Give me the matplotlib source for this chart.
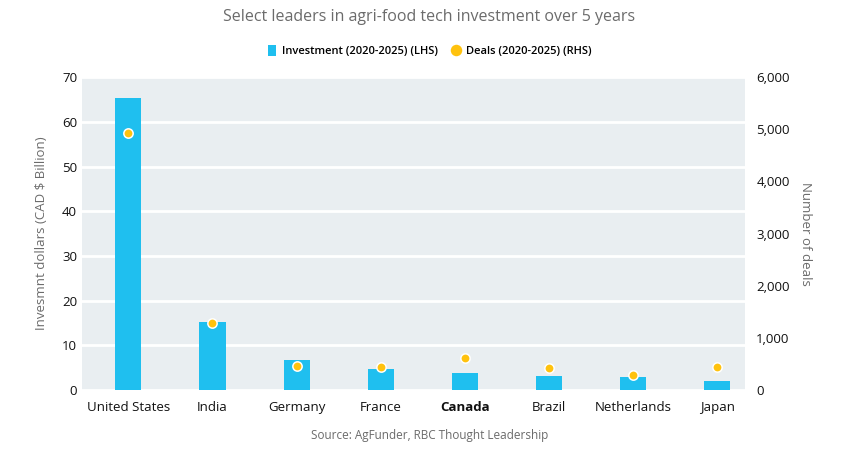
import numpy as np
import matplotlib.pyplot as plt

countries = ["United States", "India", "Germany", "France", "Canada", "Brazil", "Netherlands", "Japan"]
investment = [65.3, 15.2, 6.8, 4.8, 3.85, 3.1, 3.0, 1.9]
deals = [4920, 1290, 460, 440, 620, 430, 285, 440]

plt.rcParams['font.family'] = ['Open Sans', 'DejaVu Sans']

bar_color = '#1FBFEF'
dot_color = '#FFC20E'
grey = '#6b6b6b'

fig = plt.figure(figsize=(8.59, 4.54), dpi=100)
ax = fig.add_axes([0.0955, 0.141, 0.772, 0.689])
ax.set_facecolor('#E9EEF1')

x = np.arange(len(countries))
ax.bar(x, investment, width=0.31, color=bar_color, zorder=2, label='Investment (2020-2025) (LHS)')
ax.set_xlim(-0.55, 7.33)
ax.set_ylim(0, 70)
ax.set_yticks(range(0, 71, 10))
ax.grid(axis='y', color='white', linewidth=2)
ax.set_axisbelow(True)
for s in ax.spines.values():
    s.set_visible(False)
ax.tick_params(length=0, labelsize=9.5, colors='#111111')
ax.tick_params(axis='x', pad=8)
ax.set_xticks(x)
ax.set_xticklabels(countries)
for lbl in ax.get_xticklabels():
    if lbl.get_text() == 'Canada':
        lbl.set_fontweight('bold')
ax.set_ylabel('Invesmnt dollars (CAD $ Billion)', color=grey, fontsize=9.5, labelpad=10)

ax2 = ax.twinx()
ax2.scatter(x, deals, s=45, color=dot_color, edgecolor='white', linewidth=1.1, zorder=3,
            label='Deals (2020-2025) (RHS)')
ax2.set_ylim(0, 6000)
ax2.set_yticks(range(0, 6001, 1000))
ax2.set_yticklabels([f'{v:,}' for v in range(0, 6001, 1000)])
for s in ax2.spines.values():
    s.set_visible(False)
ax2.tick_params(length=0, labelsize=9.5, colors='#111111', pad=8)
ax2.set_ylabel('Number of deals', color=grey, fontsize=9.5, rotation=270, labelpad=16)

fig.text(0.5, 0.962, 'Select leaders in agri-food tech investment over 5 years',
         ha='center', va='center', fontsize=11.5, color=grey)

h1, l1 = ax.get_legend_handles_labels()
h2, l2 = ax2.get_legend_handles_labels()
leg = fig.legend(h1 + h2, l1 + l2, loc='center', bbox_to_anchor=(0.5, 0.887), ncol=2,
                 frameon=False, fontsize=8, handlelength=0.8, handleheight=1.1,
                 columnspacing=1.2, handletextpad=0.5, markerscale=1.4)
for t in leg.get_texts():
    t.set_fontweight('semibold')

fig.text(0.5, 0.04, 'Source: AgFunder, RBC Thought Leadership',
         ha='center', va='center', fontsize=8.5, color=grey)

fig.savefig('out.png', dpi=100)
